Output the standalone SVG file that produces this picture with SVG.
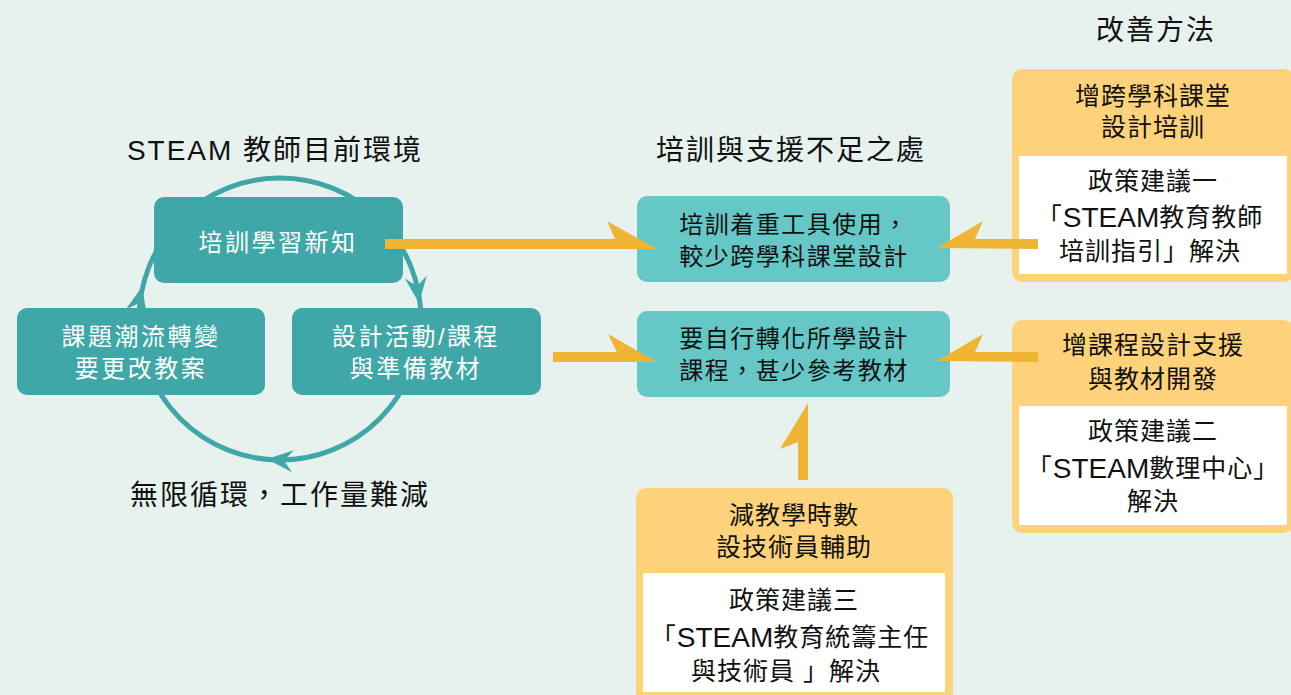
<svg xmlns="http://www.w3.org/2000/svg" width="1291" height="695" viewBox="0 0 1291 695">
<style>
text{font-family:"Liberation Sans","Noto Sans CJK TC",sans-serif;text-anchor:middle;dominant-baseline:central}
.ttl{font-size:28px;letter-spacing:2px;fill:#111}
.wt{font-size:24px;letter-spacing:2.5px;fill:#fff}
.bt{font-size:24px;letter-spacing:1.5px;fill:#111}
.ot{font-size:25px;letter-spacing:1px;fill:#111}
.stm{font-size:28px;letter-spacing:0}
.dark{fill:#3FA7A8}
.light{fill:#66C7C7}
.org{fill:#FED27A}
.wh{fill:#fff}
.yel{fill:#EFB433}
</style>
<defs>
<path id="ah" d="M0,0 L-26,-11 L-17,0 L-26,11 Z" fill="#3FA7A8"/>
</defs>
<rect width="1291" height="695" fill="#E7F2EE"/>

<g id="titles">
<text class="ttl" x="1156" y="30">改善方法</text>
<text class="ttl" x="275" y="150">STEAM 教師目前環境</text>
<text class="ttl" x="791" y="150">培訓與支援不足之處</text>
<text class="ttl" x="280" y="495">無限循環，工作量難減</text>
</g>

<g id="cycle">
<circle cx="280" cy="319" r="141" fill="none" stroke="#3FA7A8" stroke-width="5"/>
<use href="#ah" transform="translate(142,287) rotate(-77)"/>
<use href="#ah" transform="translate(419,303) rotate(83)"/>
<use href="#ah" transform="translate(267,459) rotate(185)"/>
</g>

<g id="node-train">
<rect class="dark" x="154" y="197" width="249" height="86" rx="10"/>
<text class="wt" x="278" y="242">培訓學習新知</text>
</g>
<g id="node-trend">
<rect class="dark" x="17" y="308" width="248" height="87" rx="10"/>
<text class="wt" x="141" y="336">課題潮流轉變</text>
<text class="wt" x="141" y="368">要更改教案</text>
</g>
<g id="node-design">
<rect class="dark" x="292" y="308" width="249" height="87" rx="10"/>
<text class="wt" x="416" y="336">設計活動/課程</text>
<text class="wt" x="416" y="368">與準備教材</text>
</g>

<g id="node-gap1">
<rect class="light" x="637" y="196" width="313" height="86" rx="10"/>
<text class="bt" x="794" y="224">培訓着重工具使用，</text>
<text class="bt" x="794" y="256">較少跨學科課堂設計</text>
</g>
<g id="node-gap2">
<rect class="light" x="637" y="311" width="313" height="86" rx="10"/>
<text class="bt" x="794" y="338">要自行轉化所學設計</text>
<text class="bt" x="794" y="370">課程，甚少參考教材</text>
</g>

<g id="node-policy1">
<rect class="org" x="1012" y="69" width="282" height="213" rx="10"/>
<rect class="wh" x="1019" y="156" width="268" height="118"/>
<text class="ot" x="1153" y="96">增跨學科課堂</text>
<text class="ot" x="1153" y="127">設計培訓</text>
<text class="ot" x="1153" y="181">政策建議一</text>
<text class="ot" x="1150" y="217">「<tspan class="stm">STEAM</tspan>教育教師</text>
<text class="ot" x="1150" y="251">培訓指引」解決</text>
</g>
<g id="node-policy2">
<rect class="org" x="1012" y="320" width="282" height="213" rx="10"/>
<rect class="wh" x="1019" y="406" width="268" height="119"/>
<text class="ot" x="1153" y="345">增課程設計支援</text>
<text class="ot" x="1153" y="379">與教材開發</text>
<text class="ot" x="1153" y="431">政策建議二</text>
<text class="ot" x="1153" y="468">「<tspan class="stm">STEAM</tspan>數理中心」</text>
<text class="ot" x="1153" y="501">解決</text>
</g>
<g id="node-policy3">
<rect class="org" x="636" y="488" width="317" height="230" rx="10"/>
<rect class="wh" x="643" y="573" width="302" height="119"/>
<text class="ot" x="794" y="515">減教學時數</text>
<text class="ot" x="794" y="547">設技術員輔助</text>
<text class="ot" x="794" y="600">政策建議三</text>
<text class="ot" x="790" y="637">「<tspan class="stm">STEAM</tspan>教育統籌主任</text>
<text class="ot" x="786" y="671">與技術員 」解決</text>
</g>

<g id="connectors">
<polygon class="yel" points="385,239 615,239 607,221 657,249 385,249"/>
<polygon class="yel" points="1038,239 975,239 983,221 937,248 1038,249"/>
<polygon class="yel" points="553,352 617,352 608,334 657,362 553,362"/>
<polygon class="yel" points="1038,352 975,352 983,334 937,361 1038,362"/>
<polygon class="yel" points="798,480 798,442 780,449 808,403 808,480"/>
</g>
</svg>
